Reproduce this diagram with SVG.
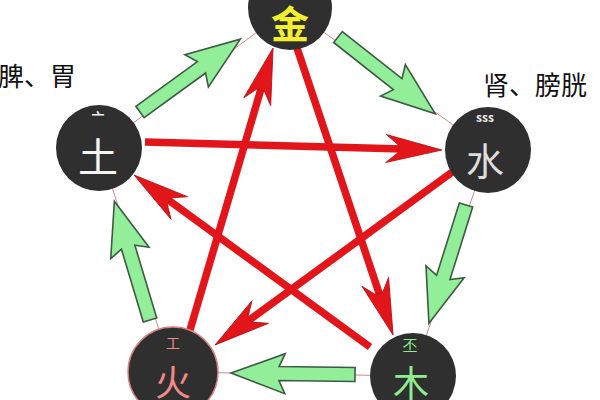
<svg xmlns="http://www.w3.org/2000/svg" width="600" height="400" viewBox="0 0 600 400">
<style>
.edge{stroke:#c98a8a;stroke-width:1;fill:none}
.gen{fill:#92ee98;stroke:#3e5a44;stroke-width:1.6;stroke-linejoin:miter}
.ctl{stroke:#e2151b;stroke-width:7.5;fill:none;marker-end:url(#rh)}
.disc{fill:#2f2f2f}
.main{font-family:"Noto Sans CJK SC","Noto Sans",sans-serif;text-anchor:middle}
.lbl{font-family:"Noto Sans CJK SC","Noto Sans",sans-serif;font-size:26px;fill:#111}
.sym{font-family:"Noto Sans CJK SC","DejaVu Sans",sans-serif;text-anchor:middle}
</style>
<defs>
<marker id="rh" markerUnits="userSpaceOnUse" markerWidth="60" markerHeight="32" refX="36" refY="15" orient="auto" overflow="visible">
<path d="M56,15 L0,1 L12,11 L12,19 L0,29 Z" fill="#e2151b" stroke="#b80d12" stroke-width="0.8"/>
</marker>
<polygon id="garrow" class="gen" points="0,-7 76,-7 70,-20 124,0 70,20 76,7 0,7"/>
</defs>
<rect width="600" height="400" fill="#ffffff"/>
<g id="connectors">
<polygon class="edge" points="290,8 488,150 413,376 173,372 99,148"/>
<use href="#garrow" transform="translate(140,112) rotate(-36)"/>
<use href="#garrow" transform="translate(338,37) rotate(38.3)"/>
<use href="#garrow" transform="translate(466,205) rotate(107.4)"/>
<use href="#garrow" transform="translate(355,374.5) rotate(180.7)"/>
<use href="#garrow" transform="translate(150,320) rotate(-106.7)"/>
<line class="ctl" x1="145" y1="142" x2="422" y2="149.5"/>
<line class="ctl" x1="455" y1="170" x2="231.2" y2="333.2"/>
<line class="ctl" x1="190" y1="330" x2="267.4" y2="67.2"/>
<line class="ctl" x1="296" y1="45" x2="386.7" y2="316"/>
<line class="ctl" x1="370" y1="347" x2="150.2" y2="186.8"/>
</g>
<g id="metal">
<circle class="disc" cx="290" cy="8" r="42"/>
<text class="main" x="290" y="38" font-size="38" font-weight="bold" fill="#f2ef2e">金</text>
</g>
<g id="earth">
<circle class="disc" cx="99" cy="148" r="43"/>
<text class="sym" x="98" y="122" font-size="13" font-weight="bold" fill="#f2f2f2">亠</text>
<text class="main" x="98" y="172" font-size="40" fill="#f4f4f4">土</text>
</g>
<g id="water">
<circle class="disc" cx="488" cy="150" r="43"/>
<text class="sym" x="485" y="122" font-size="12" font-weight="bold" fill="#eeeeee">sss</text>
<text class="main" x="485" y="175" font-size="38" fill="#dddddd">水</text>
</g>
<g id="fire">
<circle class="disc" cx="173" cy="372" r="45" stroke="#d98080" stroke-width="1.5"/>
<text class="sym" x="173" y="348" font-size="14" fill="#ef8a8a">工</text>
<text class="main" x="173" y="396" font-size="36" fill="#ef8a8a">火</text>
</g>
<g id="wood">
<circle class="disc" cx="413" cy="376" r="43"/>
<text class="sym" x="410" y="351" font-size="15" fill="#8fec8f">丕</text>
<text class="main" x="411" y="397" font-size="36" fill="#8fec8f">木</text>
</g>
<g id="labels">
<text class="lbl" x="-2" y="86">脾、胃</text>
<text class="lbl" x="483" y="95">肾、膀胱</text>
</g>
</svg>
